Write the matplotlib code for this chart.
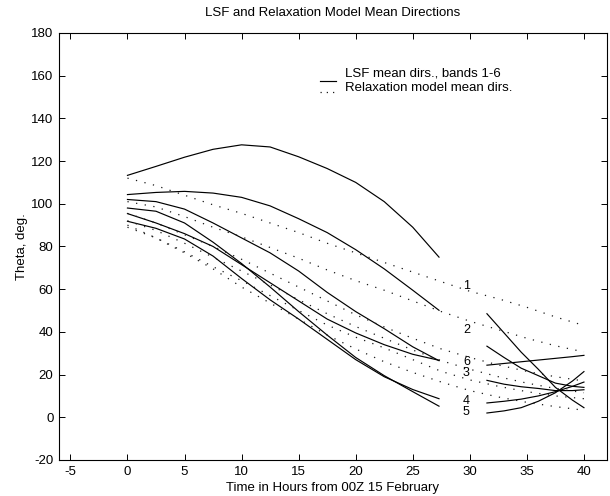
import matplotlib
matplotlib.use("Agg")
import matplotlib.pyplot as plt
import numpy as np

plt.rcParams['font.family'] = ['Liberation Sans', 'DejaVu Sans']
plt.rcParams['axes.unicode_minus'] = False

# ---- data ----
t_first = [0, 2.5, 5, 7.5, 10, 12.5, 15, 17.5, 20, 22.5, 25, 27.3]
lsf_first = {
    "1": [113.3, 117.5, 121.8, 125.5, 127.6, 126.6, 122.0, 116.5, 110.0, 101.0, 89.0, 75.0],
    "2": [104.3, 105.3, 105.8, 105.0, 103.0, 99.0, 93.0, 86.5, 78.5, 69.5, 59.5, 50.1],
    "3": [95.4, 91.0, 86.0, 80.0, 71.5, 63.0, 54.5, 46.0, 39.5, 34.0, 29.5, 26.7],
    "4": [91.8, 88.5, 83.5, 75.5, 65.0, 55.0, 46.0, 36.5, 27.0, 19.0, 13.0, 8.7],
    "5": [98.0, 96.5, 91.0, 82.0, 72.0, 61.0, 49.5, 38.5, 28.0, 19.5, 12.0, 5.2],
    "6": [102.0, 101.0, 97.5, 91.0, 84.0, 77.0, 68.5, 58.5, 49.5, 41.5, 33.0, 26.5],
}
t_second = [31.5, 33, 34.5, 36, 37.5, 39, 40]
lsf_second = {
    "1": [48.5, 39.5, 30.5, 22.5, 14.0, 8.0, 4.5],
    "2": [33.3, 28.0, 23.0, 19.5, 16.0, 14.5, 14.0],
    "3": [17.3, 15.5, 14.3, 13.5, 12.5, 12.5, 12.9],
    "4": [6.7, 7.5, 8.5, 10.0, 12.0, 14.5, 16.5],
    "5": [2.0, 3.0, 4.5, 7.5, 11.5, 17.0, 21.4],
    "6": [24.4, 25.2, 26.0, 26.8, 27.6, 28.4, 29.0],
}
t_model = [0, 2.5, 5, 7.5, 10, 12.5, 15, 17.5, 20, 22.5, 25, 27.5, 30, 32.5, 35, 37.5, 40]
model = {
    "1": [112, 108.5, 104, 99.5, 95.5, 91, 86.5, 81.5, 77, 72.5, 68, 63.5, 59, 55.5, 51.5, 47, 43],
    "2": [101, 98.5, 94, 89, 84.5, 79.5, 74.5, 69, 64, 59.5, 54.5, 49.5, 45, 41, 37, 33.5, 30.6],
    "6": [95.5, 91, 85.5, 80, 74, 67.5, 61, 54.5, 48, 42.3, 37, 32, 28, 24.5, 21.5, 19, 17],
    "3": [92, 87.5, 81.5, 75, 68.5, 62, 55, 48.5, 42.5, 37, 31.5, 26.5, 22.5, 19, 16, 13.5, 11.5],
    "4": [89, 84, 77.5, 70.5, 64, 57, 50, 43.2, 37.5, 32.5, 27, 21.5, 17.5, 14.5, 12, 10, 8.7],
    "5": [90, 84, 77, 69.5, 61, 53.5, 46, 38.5, 32, 26, 21, 16.5, 12.5, 9.5, 7, 5, 3.3],
}
band_labels = ["1", "2", "6", "3", "4", "5"]
label_y = [61.4, 41.0, 26.0, 20.6, 7.8, 2.3]
x_ticks = [-5, 0, 5, 10, 15, 20, 25, 30, 35, 40]
y_ticks = [-20, 0, 20, 40, 60, 80, 100, 120, 140, 160, 180]

# ---- figure ----
fig = plt.figure(figsize=(6.10, 4.96), dpi=100)
ax = fig.add_axes([0.0967, 0.0726, 0.898, 0.861])

for b in lsf_first:
    ax.plot(t_first, lsf_first[b], color="black", lw=0.85)
    ax.plot(t_second, lsf_second[b], color="black", lw=0.85)
for b in model:
    ax.plot(t_model, model[b], color="0.1", lw=0.9, linestyle=(0, (1, 6)))

for b, yl in zip(band_labels, label_y):
    ax.text(29.7, yl, b, ha="center", va="center", fontsize=9)

ax.set_xlim(-6, 42)
ax.set_ylim(-20, 180)
ax.set_xticks(x_ticks)
ax.set_yticks(y_ticks)
ax.tick_params(direction="in", length=4, width=0.7, top=True, right=True,
               labelsize=9.5, pad=4)
for s in ax.spines.values():
    s.set_linewidth(0.8)

ax.set_title("LSF and Relaxation Model Mean Directions", fontsize=9.5, pad=12)
ax.set_xlabel("Time in Hours from 00Z 15 February", fontsize=9.5, labelpad=3.5)
ax.set_ylabel("Theta, deg.", fontsize=9.5, labelpad=2)

# legend drawn by hand in axes coordinates
ax.plot([0.476, 0.505], [0.888, 0.888], transform=ax.transAxes, color="black", lw=0.85)
ax.plot([0.476, 0.505], [0.862, 0.862], transform=ax.transAxes, color="0.1", lw=0.9,
        linestyle=(0, (1, 4)))
ax.text(0.522, 0.906, "LSF mean dirs., bands 1-6", transform=ax.transAxes,
        fontsize=9.5, va="center")
ax.text(0.522, 0.872, "Relaxation model mean dirs.", transform=ax.transAxes,
        fontsize=9.5, va="center")

fig.savefig("out.png", dpi=100)
